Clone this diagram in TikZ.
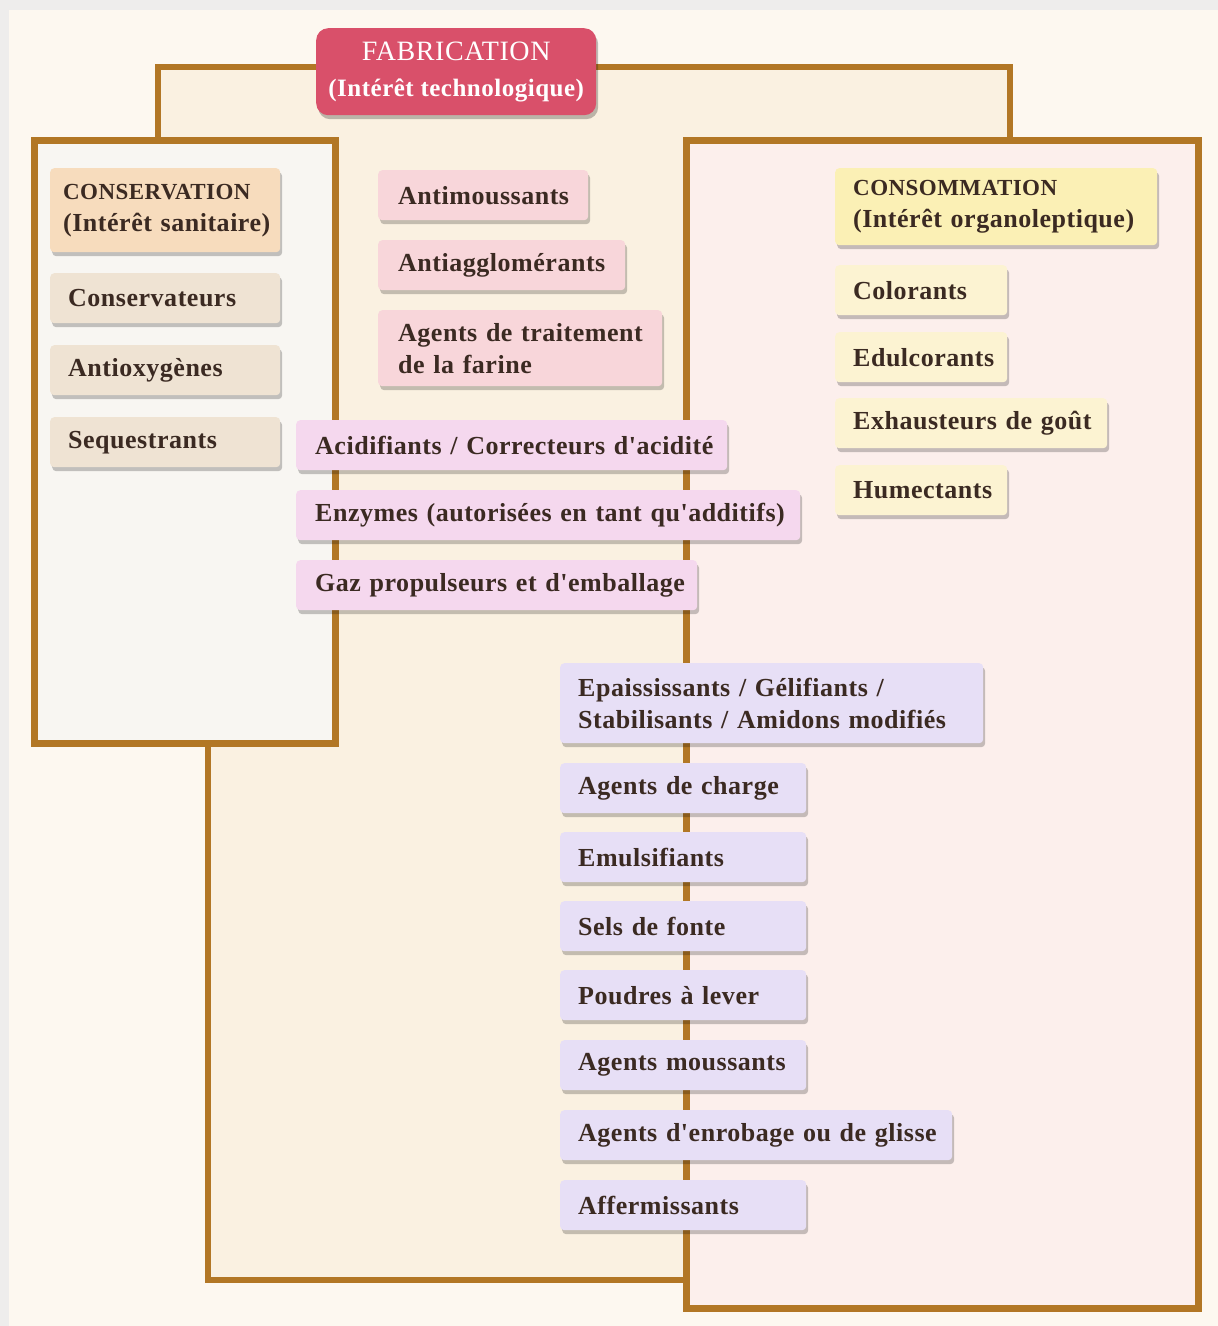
\documentclass[tikz,border=0pt]{standalone}
\usepackage{fontspec}
\setmainfont{Liberation Serif}[Ligatures=TeXOff, LetterSpace=2]
\usetikzlibrary{shadows}
\definecolor{framec}{HTML}{B27725}
\definecolor{pagebg}{HTML}{FDF8F0}
\definecolor{edgebg}{HTML}{EEEDEC}
\definecolor{fabbg}{HTML}{FAF1E1}
\definecolor{consbg}{HTML}{F8F6F2}
\definecolor{conobg}{HTML}{FCEFEC}
\definecolor{txt}{HTML}{3B2A22}
\definecolor{fabtitle}{HTML}{D9506A}
\definecolor{constitle}{HTML}{F7DCBD}
\definecolor{consitem}{HTML}{EFE3D3}
\definecolor{pinkitem}{HTML}{F8D6DA}
\definecolor{lilacitem}{HTML}{F5D8EE}
\definecolor{lavitem}{HTML}{E7DFF6}
\definecolor{conotitle}{HTML}{FBF0B5}
\definecolor{conoitem}{HTML}{FCF3D2}
\newcommand\oneline[1]{\mbox{#1}}
\begin{document}
\begin{tikzpicture}[x=1pt,y=-1pt,
  frame/.style={draw=framec, line width=6.5pt},
  box/.style={rectangle, rounded corners=4pt, anchor=north west, align=left,
    inner xsep=18pt, inner ysep=0pt, text=txt,
    font=\fontsize{26}{32}\selectfont\bfseries,
    drop shadow={shadow xshift=2pt, shadow yshift=-4pt, opacity=0.22, fill=black}},
  cons/.style={box, fill=consitem},
  pink/.style={box, fill=pinkitem},
  lilac/.style={box, fill=lilacitem},
  lav/.style={box, fill=lavitem},
  cono/.style={box, fill=conoitem}
]
\useasboundingbox (0,0) rectangle (1218,1326);
% page background
\fill[edgebg] (0,0) rectangle (1218,1326);
\fill[pagebg] (9,10) rectangle (1218,1326);

% FABRICATION frame (behind)
\filldraw[frame, fill=fabbg] (158,67) -- (1010,67) -- (1010,1280) -- (208,1280) -- (208,700) -- (158,700) -- cycle;
% CONSERVATION frame
\node[frame, fill=consbg, rectangle, anchor=north west, inner sep=0pt,
      minimum width=301pt, minimum height=603pt] (consF) at (31,137) {};
% CONSOMMATION frame
\node[frame, fill=conobg, rectangle, anchor=north west, inner sep=0pt,
      minimum width=512pt, minimum height=1168pt] (conoF) at (683,137) {};

% FABRICATION title
\node[rectangle, rounded corners=12pt, fill=fabtitle, text=white, anchor=north west,
      minimum width=280pt, minimum height=87pt, inner sep=0pt, align=center,
      font=\fontsize{25}{36}\selectfont,
      drop shadow={shadow xshift=2pt, shadow yshift=-4pt, opacity=0.25, fill=black}]
  (fab) at (316,28) {{\fontsize{28}{36}\selectfont FABRICATION}\\{\bfseries (Intérêt technologique)}};

% CONSERVATION column
\node[box, fill=constitle, inner xsep=13pt, text width=204pt, minimum height=84pt] (consT) at (50,168)
  {\oneline{\fontsize{23}{32}\selectfont CONSERVATION}\\\oneline{(Intérêt sanitaire)}};
\node[cons, text width=194pt, minimum height=50pt] (c1) at (50,273) {\oneline{Conservateurs}};
\node[cons, text width=194pt, minimum height=50pt] (c2) at (50,345) {\oneline{Antioxygènes}};
\node[cons, text width=194pt, minimum height=50pt] (c3) at (50,417) {\oneline{Sequestrants}};

% FABRICATION items
\node[pink, inner xsep=20pt, text width=170pt, minimum height=50pt] (f1) at (378,170) {\oneline{Antimoussants}};
\node[pink, inner xsep=20pt, text width=207pt, minimum height=50pt] (f2) at (378,240) {\oneline{Antiagglomérants}};
\node[pink, inner xsep=20pt, text width=244pt, minimum height=76pt] (f3) at (378,310) {\oneline{Agents de traitement}\\\oneline{de la farine}};

\node[lilac, inner xsep=19pt, text width=393pt, minimum height=50pt] (g1) at (296,420) {\oneline{Acidifiants / Correcteurs d'acidité}};
\node[lilac, inner xsep=19pt, text width=466pt, minimum height=50pt] (g2) at (296,490) {\oneline{Enzymes (autorisées en tant qu'additifs)}};
\node[lilac, inner xsep=19pt, text width=363pt, minimum height=50pt] (g3) at (296,560) {\oneline{Gaz propulseurs et d'emballage}};

\node[lav, text width=387pt, minimum height=80pt] (h1) at (560,663) {\oneline{Epaississants / Gélifiants /}\\\oneline{Stabilisants / Amidons modifiés}};
\node[lav, text width=210pt, minimum height=50pt] (h2) at (560,763) {\oneline{Agents de charge}};
\node[lav, text width=210pt, minimum height=50pt] (h3) at (560,832) {\oneline{Emulsifiants}};
\node[lav, text width=210pt, minimum height=50pt] (h4) at (560,901) {\oneline{Sels de fonte}};
\node[lav, text width=210pt, minimum height=50pt] (h5) at (560,970) {\oneline{Poudres à lever}};
\node[lav, text width=210pt, minimum height=50pt] (h6) at (560,1040) {\oneline{Agents moussants}};
\node[lav, text width=356pt, minimum height=50pt] (h7) at (560,1110) {\oneline{Agents d'enrobage ou de glisse}};
\node[lav, text width=210pt, minimum height=50pt] (h8) at (560,1180) {\oneline{Affermissants}};

% CONSOMMATION column
\node[box, fill=conotitle, text width=286pt, minimum height=77pt] (conoT) at (835,168)
  {\oneline{\fontsize{23}{32}\selectfont CONSOMMATION}\\\oneline{(Intérêt organoleptique)}};
\node[cono, text width=136pt, minimum height=50pt] (k1) at (835,265) {\oneline{Colorants}};
\node[cono, text width=136pt, minimum height=50pt] (k2) at (835,332) {\oneline{Edulcorants}};
\node[cono, text width=236pt, minimum height=50pt] (k3) at (835,398) {\oneline{Exhausteurs de goût}};
\node[cono, text width=136pt, minimum height=50pt] (k4) at (835,465) {\oneline{Humectants}};
\end{tikzpicture}
\end{document}
